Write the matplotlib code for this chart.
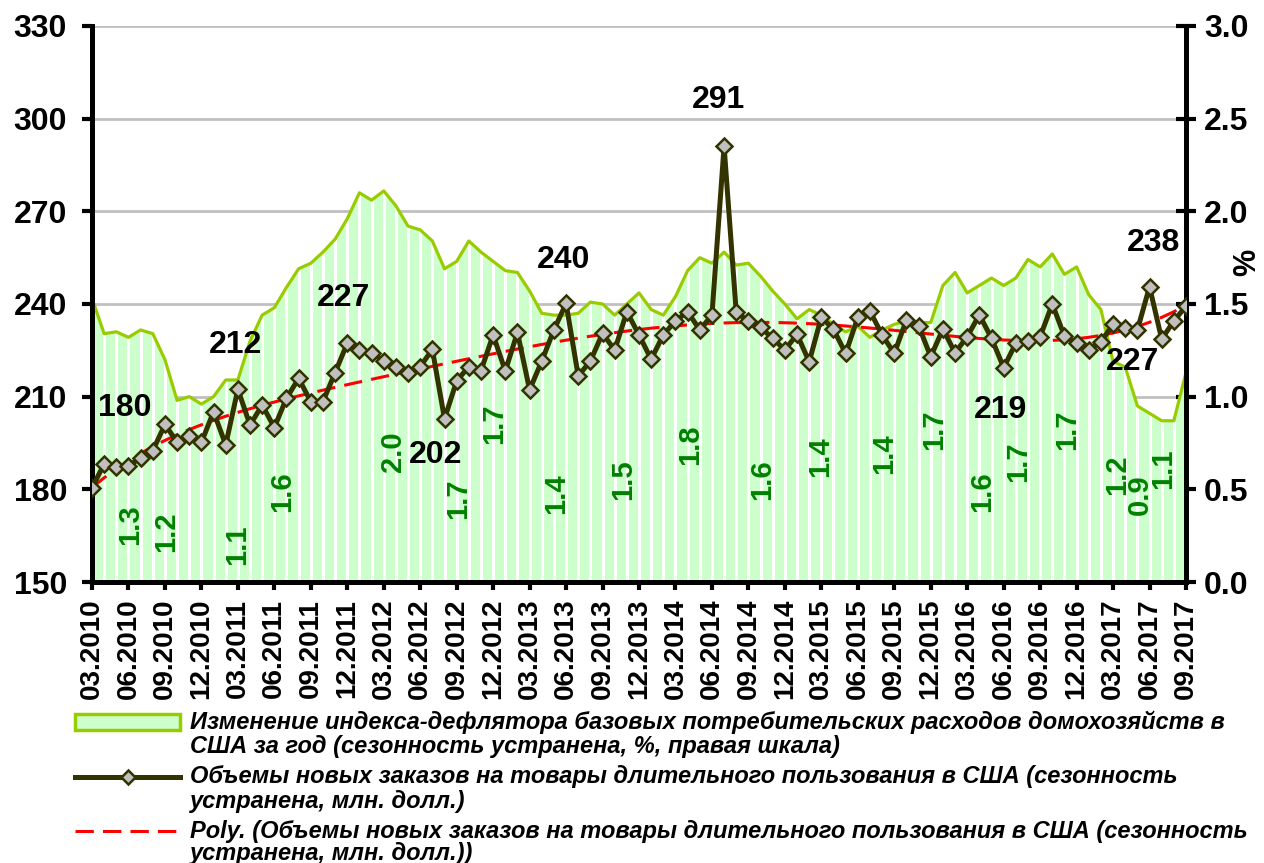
import numpy as np
import pandas as pd
import matplotlib
matplotlib.use("Agg")
import matplotlib.pyplot as plt
from matplotlib.lines import Line2D
from matplotlib.patches import Rectangle

# monthly data, 03.2010 - 09.2017
months = pd.date_range("2010-03-01", "2017-09-01", freq="MS")
month_labels = [m.strftime("%m.%Y") for m in months]

# durable goods new orders, bn USD (left axis)
orders = [180.5, 188.2, 187.1, 187.6, 190.2, 192.5, 201.0, 195.3, 197.3, 195.2,
          205.1, 194.4, 212.4, 200.8, 207.3, 200.0, 209.5, 215.9, 208.4, 208.4,
          217.8, 227.3, 225.1, 224.2, 221.5, 219.5, 217.6, 219.7, 225.3, 202.8,
          215.1, 219.7, 218.4, 230.0, 218.3, 230.8, 212.2, 221.5, 231.6, 240.2,
          216.7, 221.5, 230.5, 225.1, 237.5, 230.0, 222.1, 230.0, 234.5, 237.5,
          231.6, 236.4, 291.1, 237.3, 234.5, 232.4, 228.9, 225.1, 230.2, 221.3,
          235.7, 231.8, 224.0, 235.7, 237.7, 230.0, 224.0, 234.8, 233.0, 222.9,
          231.9, 224.2, 229.4, 236.5, 228.9, 219.4, 227.3, 228.0, 229.4, 240.0,
          229.6, 227.3, 225.1, 227.8, 233.4, 232.1, 231.6, 245.6, 228.6, 234.5,
          239.3]

# core PCE deflator, % y/y (right axis)
pce = [1.53, 1.34, 1.35, 1.32, 1.36, 1.34, 1.20, 0.98, 1.00, 0.96,
       1.00, 1.09, 1.09, 1.30, 1.44, 1.48, 1.59, 1.69, 1.72, 1.78,
       1.85, 1.96, 2.10, 2.06, 2.11, 2.03, 1.92, 1.90, 1.84, 1.69,
       1.73, 1.84, 1.78, 1.73, 1.68, 1.67, 1.57, 1.45, 1.44, 1.44,
       1.45, 1.51, 1.50, 1.44, 1.50, 1.56, 1.47, 1.44, 1.54, 1.68,
       1.75, 1.72, 1.78, 1.71, 1.72, 1.65, 1.57, 1.50, 1.42, 1.47,
       1.44, 1.39, 1.35, 1.38, 1.32, 1.36, 1.39, 1.41, 1.40, 1.40,
       1.60, 1.67, 1.56, 1.60, 1.64, 1.60, 1.64, 1.74, 1.70, 1.77,
       1.66, 1.70, 1.55, 1.47, 1.19, 1.16, 0.95, 0.91, 0.87, 0.87,
       1.13]

# labels shown on the chart
order_labels = ["180", "212", "227", "202", "240", "291", "219", "227", "238"]
order_label_pos = [(2.7, 206.2), (11.8, 226.7), (20.7, 241.8), (28.3, 191.1),
                   (38.8, 254.2), (51.5, 306.0), (74.7, 205.7), (85.6, 221.2),
                   (87.3, 259.6)]
pce_labels = ["1.3", "1.2", "1.1", "1.6", "2.0", "1.7", "1.7", "1.4", "1.5", "1.8",
              "1.6", "1.4", "1.4", "1.7", "1.6", "1.7", "1.7", "1.2", "0.9", "1.1"]
pce_label_pos = [(3.1, 525), (6.1, 531.7), (11.9, 545), (15.6, 491.7), (24.8, 451.7),
                 (30.1, 498.3), (33.1, 423.3), (38.2, 493.3), (43.7, 480), (49.2, 445),
                 (55.1, 480), (59.9, 456.7), (65.2, 453.3), (69.3, 430), (73.2, 491.7),
                 (76.2, 461.7), (80.2, 430), (84.3, 475), (86.2, 495), (88.1, 468.3)]

x = np.arange(len(orders))

# polynomial trend of orders (Excel "Poly.")
trend = np.polynomial.Polynomial.fit(x, orders, 6)(x)

plt.rcParams["font.family"] = ["Liberation Sans", "DejaVu Sans"]
plt.rcParams["font.weight"] = "bold"

fig = plt.figure(figsize=(12.64, 8.63), dpi=100)
ax = fig.add_axes([92 / 1264, 1 - 582 / 863, 1094 / 1264, 556 / 863])
ax2 = ax.twinx()
ax.set_zorder(ax2.get_zorder() + 1)
ax.patch.set_visible(False)

# area on right axis, grid lives on right axis so it stays under the area
ax2.set_ylim(0, 3.0)
ax2.set_yticks(np.arange(0, 3.01, 0.5))
ax2.set_yticklabels([f"{v:.1f}" for v in np.arange(0, 3.01, 0.5)])
ax2.grid(axis="y", color="#c0c0c0", lw=2, zorder=0)
ax2.set_axisbelow(True)
ax2.fill_between(x, 0, pce, color="#ccffcc", lw=0, zorder=1)
ax2.vlines(x, 0, pce, color="white", lw=2.2, zorder=2)
ax2.plot(x, pce, color="#99cc00", lw=2.3, zorder=3)

dash = (0, (6, 3))
ax.plot(x, trend, color="red", lw=2.2, ls=dash, zorder=3)
ax.plot(x, orders, color="#333300", lw=3.6, marker="D", ms=8,
        mfc="#c0c0c0", mec="#333300", mew=1.8, zorder=4)

ax.set_xlim(0, len(orders) - 1)
ax.set_ylim(150, 330)
ax.set_yticks(range(150, 331, 30))
ax.set_xticks(x[::3])
ax.set_xticklabels(month_labels[::3], rotation=90)

for a in (ax, ax2):
    for s in a.spines.values():
        s.set_linewidth(3.5)
    a.spines["top"].set_visible(False)
ax.tick_params(axis="y", direction="out", length=7, width=3, labelsize=23, pad=11)
ax.tick_params(axis="x", direction="out", length=6, width=3, labelsize=20, pad=6)
ax2.tick_params(axis="y", direction="inout", length=14, width=3, labelsize=23, pad=6)

ax2.text(1.056, 0.575, "%", transform=ax2.transAxes, fontsize=22, fontweight="bold",
         rotation=90, ha="center", va="center")

for t, (xi, yv) in zip(order_labels, order_label_pos):
    ax.text(xi, yv, t, fontsize=23, fontweight="bold", ha="center", va="center", zorder=5)
for t, (xi, py) in zip(pce_labels, pce_label_pos):
    ax2.text(xi, (582 - py) / 185.33, t, fontsize=21, fontweight="bold", color="#008000",
             rotation=90, ha="center", va="center", zorder=5)

# legend drawn by hand so handles sit on the first text line
def fy(py):
    return 1 - py / 863

fig.patches.append(Rectangle((75 / 1264, fy(730)), 105 / 1264, 16 / 863,
                             transform=fig.transFigure, facecolor="#ccffcc",
                             edgecolor="#99cc00", lw=2.5))
fig.lines.append(Line2D([75 / 1264, 180 / 1264], [fy(777), fy(777)], transform=fig.transFigure,
                        color="#333300", lw=3.6))
fig.lines.append(Line2D([128 / 1264], [fy(777)], transform=fig.transFigure, marker="D", ms=7,
                        mfc="#c0c0c0", mec="#333300", mew=1.8))
fig.lines.append(Line2D([75 / 1264, 180 / 1264], [fy(831), fy(831)], transform=fig.transFigure,
                        color="red", lw=2.2, ls=dash))

legend_lines = [
    ("Изменение индекса-дефлятора базовых потребительских расходов домохозяйств в", 722),
    ("США за год (сезонность устранена, %, правая шкала)", 746),
    ("Объемы новых заказов на товары длительного пользования в США (сезонность", 777),
    ("устранена, млн. долл.)", 801),
    ("Poly. (Объемы новых заказов на товары длительного пользования в США (сезонность", 831),
    ("устранена, млн. долл.))", 853),
]
for t, py in legend_lines:
    fig.text(190 / 1264, fy(py), t, fontsize=17, fontweight="bold", fontstyle="italic",
             ha="left", va="center")

fig.savefig("out.png", dpi=100)
